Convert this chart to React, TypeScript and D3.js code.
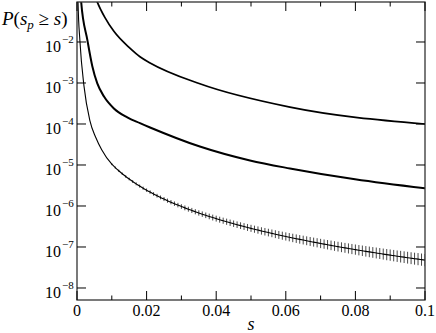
import React from 'react';
import * as d3 from 'd3';

const W = 436;
const H = 333;
const plot = { left: 77, right: 425, top: 2, bottom: 300 };

// top curve: s and log10 P(s_p >= s)
const topS = [0.0045, 0.0058, 0.008, 0.0106, 0.0152, 0.0181, 0.021, 0.0353, 0.0612, 0.1];
const topLogP = [-0.72, -1.02, -1.4, -1.74, -2.15, -2.36, -2.51, -3.02, -3.59, -4.0];

// middle curve
const midS = [0.0007, 0.0012, 0.003, 0.0044, 0.00583, 0.00776, 0.0106, 0.01445, 0.0181, 0.021, 0.0353, 0.0497, 0.0612, 0.0799, 0.1];
const midLogP = [-0.4, -1.02, -1.96, -2.59, -3.01, -3.33, -3.62, -3.84, -3.98, -4.085, -4.55, -4.89, -5.085, -5.35, -5.57];

// bottom curve, small-s part (no visible error bars)
const lowS = [0.0001, 0.00029, 0.00086, 0.002, 0.0037, 0.0054, 0.0071];
const lowLogP = [0.0, -1.02, -2.0, -3.07, -3.92, -4.33, -4.63];

// bottom curve with error bars, s = 0.010 ... 0.100 (step 0.001)
const barStart = 0.01;
const barStep = 0.001;
const barLogP = [
  -4.98, -5.064, -5.141, -5.213, -5.28, -5.343, -5.403, -5.46, -5.514, -5.565,
  -5.614, -5.661, -5.706, -5.749, -5.791, -5.831, -5.87, -5.907, -5.943, -5.978,
  -6.013, -6.046, -6.078, -6.109, -6.14, -6.17, -6.199, -6.227, -6.255, -6.282,
  -6.308, -6.334, -6.359, -6.384, -6.409, -6.432, -6.456, -6.479, -6.501, -6.523,
  -6.545, -6.566, -6.587, -6.608, -6.628, -6.648, -6.667, -6.687, -6.706, -6.725,
  -6.743, -6.761, -6.779, -6.797, -6.814, -6.831, -6.848, -6.865, -6.881, -6.897,
  -6.914, -6.93, -6.945, -6.96, -6.976, -6.991, -7.006, -7.021, -7.035, -7.05,
  -7.064, -7.078, -7.092, -7.106, -7.119, -7.133, -7.146, -7.159, -7.173, -7.186,
  -7.198, -7.211, -7.224, -7.236, -7.248, -7.261, -7.273, -7.285, -7.296, -7.308,
  -7.32,
];
// error half-width, in decades
const barErr = [
  0.024, 0.026, 0.027, 0.029, 0.031, 0.032, 0.034, 0.036, 0.037, 0.039,
  0.041, 0.043, 0.044, 0.046, 0.047, 0.049, 0.051, 0.052, 0.054, 0.055,
  0.057, 0.059, 0.06, 0.062, 0.063, 0.065, 0.066, 0.068, 0.069, 0.071,
  0.072, 0.073, 0.075, 0.076, 0.078, 0.079, 0.08, 0.082, 0.083, 0.085,
  0.086, 0.087, 0.089, 0.09, 0.092, 0.093, 0.094, 0.096, 0.097, 0.099,
  0.1, 0.101, 0.103, 0.104, 0.105, 0.107, 0.108, 0.109, 0.11, 0.112,
  0.113, 0.114, 0.115, 0.117, 0.118, 0.119, 0.12, 0.121, 0.123, 0.124,
  0.125, 0.126, 0.128, 0.129, 0.13, 0.131, 0.133, 0.134, 0.135, 0.137,
  0.138, 0.139, 0.14, 0.142, 0.143, 0.144, 0.145, 0.146, 0.148, 0.149,
  0.15,
];

const xMajor = [0, 0.02, 0.04, 0.06, 0.08, 0.1];
const xMajorLabels = ['0', '0.02', '0.04', '0.06', '0.08', '0.1'];
const xMinor = [0.01, 0.03, 0.05, 0.07, 0.09];
const yExponents = [-2, -3, -4, -5, -6, -7, -8];

const font = "'Liberation Serif'";

export default function App() {
  const x = d3.scaleLinear().domain([0, 0.1]).range([plot.left, plot.right]);
  const y = d3.scaleLog()
    .domain([Math.pow(10, -8.2927), Math.pow(10, -1.0244)])
    .range([plot.bottom, plot.top]);

  const line = d3.line<[number, number]>()
    .x((d) => x(d[0]))
    .y((d) => y(Math.pow(10, d[1])))
    .curve(d3.curveMonotoneX);

  const topPts = topS.map((s, i) => [s, topLogP[i]] as [number, number]);
  const midPts = midS.map((s, i) => [s, midLogP[i]] as [number, number]);
  const barPts = barLogP.map((v, i) => [barStart + i * barStep, v] as [number, number]);
  const lowPts = lowS.map((s, i) => [s, lowLogP[i]] as [number, number]).concat(barPts);

  const txt = { fontFamily: font, fill: '#000' };

  return (
    <svg width={W} height={H} style={{ position: 'absolute', left: 0, top: 0, background: '#fff' }}>
      <defs>
        <clipPath id="plotClip">
          <rect x={plot.left} y={plot.top} width={plot.right - plot.left} height={plot.bottom - plot.top} />
        </clipPath>
      </defs>

      <g clipPath="url(#plotClip)">
        {/* error bars of the bottom curve */}
        {barPts.map((d, i) => (
          <line key={'e' + i}
            x1={x(d[0])} x2={x(d[0])}
            y1={y(Math.pow(10, d[1] - barErr[i]))}
            y2={y(Math.pow(10, d[1] + barErr[i]))}
            stroke="#000" strokeWidth={0.9} strokeOpacity={0.8} />
        ))}
        <path d={line(lowPts) || ''} fill="none" stroke="#000" strokeWidth={1.1} />
        <path d={line(midPts) || ''} fill="none" stroke="#000" strokeWidth={2} />
        <path d={line(topPts) || ''} fill="none" stroke="#000" strokeWidth={1.7} />
      </g>

      {/* frame */}
      <rect x={plot.left} y={plot.top} width={plot.right - plot.left} height={plot.bottom - plot.top}
        fill="none" stroke="#333" strokeWidth={1.3} />

      {/* x ticks */}
      {xMajor.map((v) => (
        <g key={'xm' + v}>
          <line x1={x(v)} x2={x(v)} y1={plot.bottom} y2={plot.bottom - 9} stroke="#000" />
          <line x1={x(v)} x2={x(v)} y1={plot.top} y2={plot.top + 9} stroke="#000" />
        </g>
      ))}
      {xMinor.map((v) => (
        <g key={'xn' + v}>
          <line x1={x(v)} x2={x(v)} y1={plot.bottom} y2={plot.bottom - 4.5} stroke="#000" />
          <line x1={x(v)} x2={x(v)} y1={plot.top} y2={plot.top + 4.5} stroke="#000" />
        </g>
      ))}
      {xMajor.map((v, i) => (
        <text key={'xl' + v} x={x(v)} y={316} textAnchor="middle" style={{ ...txt, fontSize: 16 }}>
          {xMajorLabels[i]}
        </text>
      ))}

      {/* y ticks */}
      {yExponents.map((e) => {
        const ty = y(Math.pow(10, e));
        return (
          <g key={'y' + e}>
            <line x1={plot.left} x2={plot.left + 9} y1={ty} y2={ty} stroke="#000" />
            <line x1={plot.right} x2={plot.right - 9} y1={ty} y2={ty} stroke="#000" />
            <text x={61} y={ty + 10} textAnchor="end" style={{ ...txt, fontSize: 16 }}>10</text>
            <text x={62} y={ty + 1} style={{ ...txt, fontSize: 11 }}>{'\u2212' + Math.abs(e)}</text>
          </g>
        );
      })}

      {/* axis titles */}
      <text x={251} y={330} textAnchor="middle" style={{ ...txt, fontSize: 18, fontStyle: 'italic' }}>s</text>
      <text x={2} y={25} style={{ ...txt, fontSize: 19 }}>
        <tspan style={{ fontStyle: 'italic' }}>P</tspan>
        <tspan>(</tspan>
        <tspan style={{ fontStyle: 'italic' }}>s</tspan>
        <tspan style={{ fontStyle: 'italic', fontSize: 13 }} dy={4}>p</tspan>
        <tspan dy={-4}>{' \u2265 '}</tspan>
        <tspan style={{ fontStyle: 'italic' }}>s</tspan>
        <tspan>)</tspan>
      </text>
    </svg>
  );
}
